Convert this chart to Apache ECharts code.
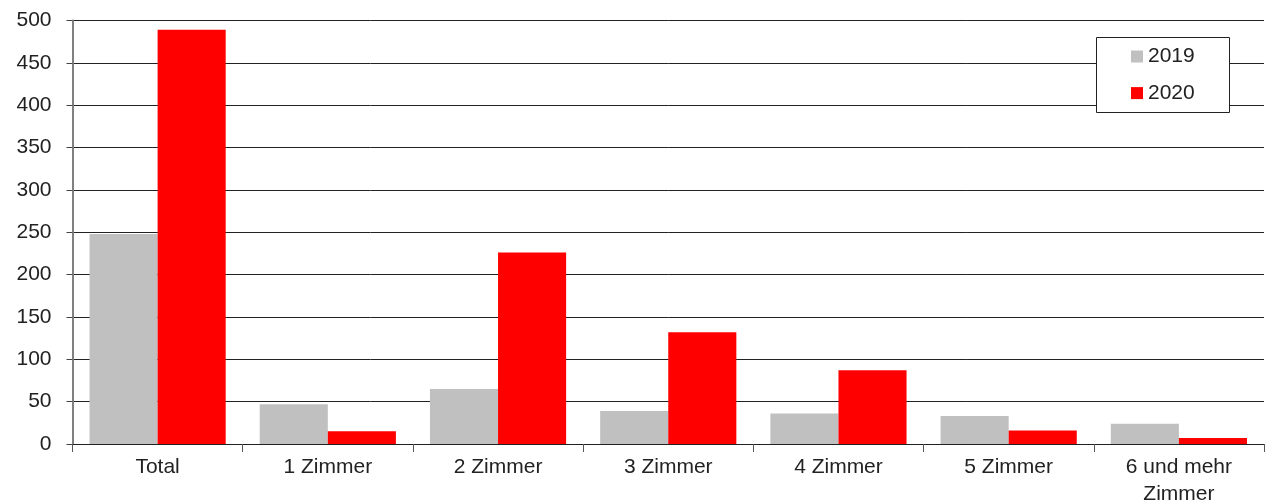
<!DOCTYPE html>
<html>
<head>
<meta charset="utf-8">
<script src="https://cdn.jsdelivr.net/npm/echarts@6/dist/echarts.min.js"></script>
<style>html,body{margin:0;padding:0;background:#fff;overflow:hidden}#c{width:1268px;height:501px}</style>
</head>
<body>
<div id="c"></div>
<script>
const categories = ['Total', '1 Zimmer', '2 Zimmer', '3 Zimmer', '4 Zimmer', '5 Zimmer', '6 und mehr\nZimmer'];
const values2019 = [248, 47, 65, 39, 36, 33, 24];
const values2020 = [489, 15, 226, 132, 87, 16, 7];
const seriesNames = ['2019', '2020'];
const yTicks = { min: 0, max: 500, interval: 50 };

const FONT = '"Liberation Sans", Arial, sans-serif';
const el = document.getElementById('c');
const chart = echarts.init(el, null, { renderer: 'canvas', width: 1268, height: 501 });
chart.setOption({
  animation: false,
  backgroundColor: '#fff',
  grid: { left: 72.5, right: 4, top: 20.5, bottom: 57, containLabel: false, outerBoundsMode: 'none' },
  graphic: [{
    type: 'rect', left: 1096, top: 37, z: 100,
    shape: { width: 133, height: 75 },
    style: { fill: '#fff', stroke: '#222', lineWidth: 1 }
  }],
  legend: {
    orient: 'vertical', left: 1131, top: 46, z: 101,
    itemWidth: 12, itemHeight: 12, itemGap: 15.6, padding: 0,
    icon: 'rect',
    textStyle: { fontFamily: FONT, fontSize: 21, color: '#222', lineHeight: 21 },
    data: seriesNames
  },
  xAxis: {
    type: 'category', data: categories,
    axisLine: { show: true, lineStyle: { color: '#222', width: 1 } },
    axisTick: { show: true, length: 8, alignWithLabel: false, lineStyle: { color: '#555' } },
    axisLabel: { fontFamily: FONT, fontSize: 21, color: '#222', margin: 10, lineHeight: 27, interval: 0 },
    splitLine: { show: false }
  },
  yAxis: {
    type: 'value', min: yTicks.min, max: yTicks.max, interval: yTicks.interval,
    axisLine: { show: true, lineStyle: { color: '#808080', width: 2 } },
    axisTick: { show: true, length: 6, lineStyle: { color: '#444' } },
    axisLabel: { fontFamily: FONT, fontSize: 21, color: '#222', margin: 21 },
    splitLine: { show: true, lineStyle: { color: '#222', width: 1 } }
  },
  series: [
    { name: seriesNames[0], type: 'bar', data: values2019, barGap: '0%', barCategoryGap: '20%', itemStyle: { color: '#C0C0C0' } },
    { name: seriesNames[1], type: 'bar', data: values2020, barGap: '0%', barCategoryGap: '20%', itemStyle: { color: '#FF0000' } }
  ]
});
</script>
</body>
</html>
